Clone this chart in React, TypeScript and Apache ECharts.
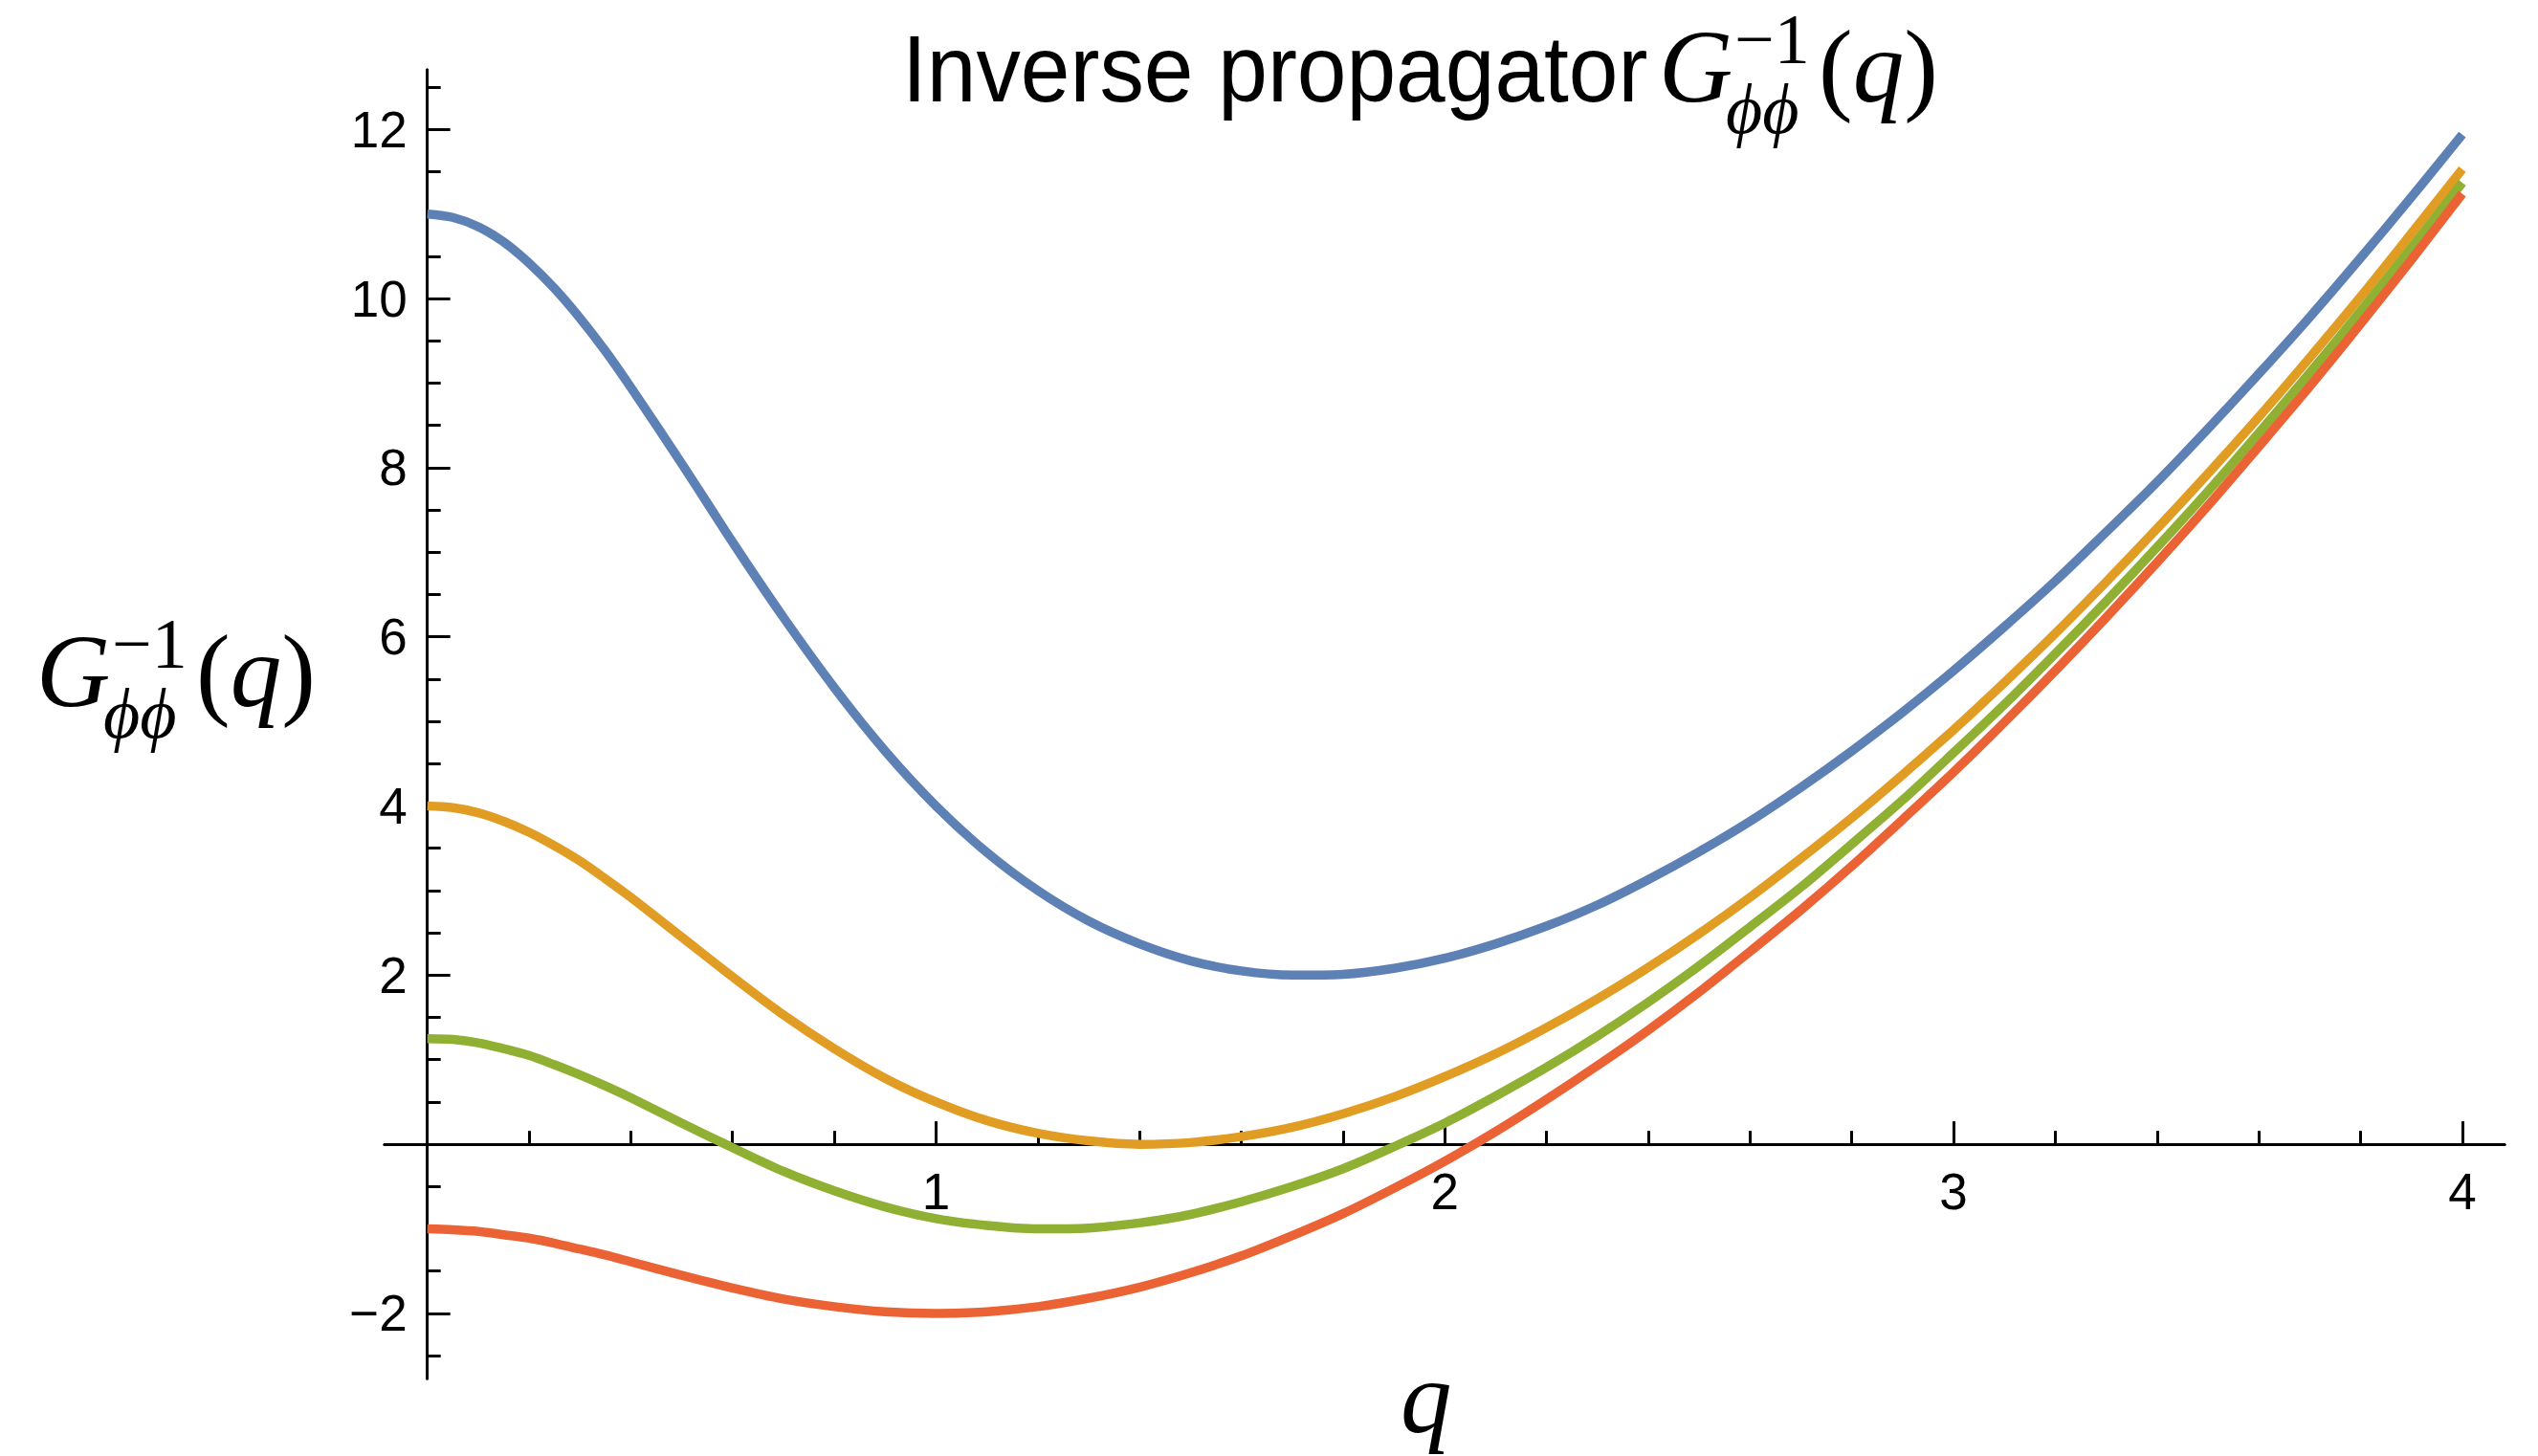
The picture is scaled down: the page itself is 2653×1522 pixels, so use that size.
import React, { useEffect, useRef } from "react";
import * as echarts from "echarts";

// q sample points (finer near q = 0 where the curves bend sharply)
const qValues = [
  0, 0.05, 0.1, 0.15, 0.2, 0.25, 0.3, 0.35, 0.4, 0.5, 0.6, 0.7, 0.8, 0.9, 1, 1.1, 1.2, 1.3, 1.4, 1.5, 1.6, 1.7, 1.8, 1.9, 2,
  2.1, 2.2, 2.3, 2.4, 2.5, 2.6, 2.7, 2.8, 2.9, 3, 3.1, 3.2, 3.3, 3.4, 3.5, 3.6, 3.7, 3.8, 3.9, 4,
];
// curves
const blueValues = [
  11, 10.96, 10.85, 10.67, 10.42, 10.12, 9.77, 9.38, 8.95, 8.05, 7.12, 6.23, 5.4, 4.65, 4.0, 3.45, 3.0, 2.64, 2.37, 2.17, 2.05, 2.0, 2.01, 2.08, 2.2,
  2.37, 2.58, 2.83, 3.13, 3.46, 3.82, 4.22, 4.65, 5.11, 5.6, 6.12, 6.66, 7.24, 7.83, 8.46, 9.11, 9.78, 10.48, 11.2, 11.94,
];
const orangeValues = [
  4, 3.98, 3.92, 3.82, 3.69, 3.53, 3.35, 3.14, 2.92, 2.45, 1.98, 1.53, 1.13, 0.78, 0.5, 0.28, 0.13, 0.04, 0.0, 0.02, 0.09, 0.2, 0.36, 0.56, 0.8,
  1.07, 1.38, 1.72, 2.09, 2.49, 2.92, 3.38, 3.86, 4.37, 4.9, 5.46, 6.04, 6.65, 7.28, 7.93, 8.6, 9.3, 10.02, 10.77, 11.53,
];
const greenValues = [
  1.25, 1.24, 1.2, 1.13, 1.05, 0.94, 0.82, 0.69, 0.55, 0.25, -0.04, -0.32, -0.55, -0.74, -0.88, -0.96, -1.0, -0.99, -0.93, -0.83, -0.68, -0.5, -0.29, -0.03, 0.25,
  0.57, 0.91, 1.28, 1.68, 2.11, 2.57, 3.04, 3.55, 4.07, 4.63, 5.2, 5.8, 6.42, 7.06, 7.72, 8.41, 9.12, 9.85, 10.6, 11.37,
];
const redValues = [
  -1, -1.01, -1.03, -1.07, -1.11, -1.17, -1.24, -1.31, -1.39, -1.55, -1.7, -1.83, -1.92, -1.98, -2.0, -1.98, -1.92, -1.82, -1.69, -1.52, -1.32, -1.08, -0.82, -0.52, -0.2,
  0.15, 0.53, 0.93, 1.35, 1.8, 2.28, 2.77, 3.29, 3.84, 4.4, 4.99, 5.6, 6.23, 6.88, 7.55, 8.25, 8.96, 9.7, 10.46, 11.24,
];

const seriesColors = ["#5E81B5", "#E19C24", "#8FB032", "#EB6235"];

// ticks
const xMajorTicks = [0, 1, 2, 3, 4];
const xTickLabels = [1, 2, 3, 4];
const yMajorTicks = [-2, 0, 2, 4, 6, 8, 10, 12];
const yTickLabels = [-2, 2, 4, 6, 8, 10, 12];
const xMinorTicks = [0.2, 0.4, 0.6, 0.8, 1.2, 1.4, 1.6, 1.8, 2.2, 2.4, 2.6, 2.8, 3.2, 3.4, 3.6, 3.8];
const yMinorTicks = [-2.5, -1.5, -1, -0.5, 0.5, 1, 1.5, 2.5, 3, 3.5, 4.5, 5, 5.5, 6.5, 7, 7.5, 8.5, 9, 9.5, 10.5, 11, 11.5, 12.5];

const X_MIN = -0.084;
const X_MAX = 4.083;
const Y_MIN = -2.77;
const Y_MAX = 12.705;

const W = 2653;
const H = 1522;
const GRID = { left: 402, right: 35, top: 73, bottom: 81 };

const SERIF = "'Liberation Serif', 'Times New Roman', serif";
const SANS = "'Liberation Sans', Arial, Helvetica, sans-serif";

function fmt(v: number) {
  return v < 0 ? "\u2212" + Math.abs(v) : String(v);
}

function txt(id: string, x: number, y: number, text: string, size: number, family: string, italic: boolean, extra: any = {}, lineHeight?: number) {
  const style: any = {
    text,
    fontFamily: family,
    fontStyle: italic ? "italic" : "normal",
    fontSize: size,
    fill: "#000",
    align: "left",
    textAlign: "left",
    verticalAlign: "middle",
    textVerticalAlign: "middle",
  };
  if (lineHeight) style.lineHeight = lineHeight;
  return { type: "text", id, x, y, ...extra, style };
}

function formula(x: number, baseline: number, key: string) {
  // G^{-1}_{phi phi}(q)
  const big = 107;
  const small = 74;
  const midBig = baseline - 0.3375 * big;
  return [
    txt(key + "G", x, midBig, "G", big, SERIF, true),
    txt(key + "sup", x + 79, baseline - 40 - 0.3375 * small, "\u22121", small, SERIF, false, {}, 56),
    txt(key + "sub", x + 70, baseline + 33 - 0.3375 * small, "\u03D5\u03D5", small, SERIF, true),
    {
      type: "text",
      id: key + "arg",
      x: x + 167,
      y: midBig,
      style: {
        text: "{p|(}{i|q}{p|)}",
        fill: "#000",
        align: "left",
        textAlign: "left",
        verticalAlign: "middle",
        textVerticalAlign: "middle",
        rich: {
          p: { fontFamily: SERIF, fontSize: big, fill: "#000" },
          i: { fontFamily: SERIF, fontStyle: "italic", fontSize: big, fill: "#000" },
        },
      },
    },
  ];
}

export default function App() {
  const ref = useRef<HTMLDivElement>(null);

  useEffect(() => {
    document.body.style.margin = "0";
    if (!ref.current) return;
    const chart = echarts.init(ref.current, null, { renderer: "svg" });

    const mk = (vals: number[]) => qValues.map((q, i) => [q, vals[i]]);
    const allSeries = [blueValues, orangeValues, greenValues, redValues];

    const gridW = W - GRID.left - GRID.right;
    const gridH = H - GRID.top - GRID.bottom;
    // place axes through the origin via offsets
    const xAxisOffset = -((0 - Y_MIN) / (Y_MAX - Y_MIN)) * gridH;
    const yAxisOffset = -((0 - X_MIN) / (X_MAX - X_MIN)) * gridW;

    const axisLine = { show: true, onZero: false, lineStyle: { color: "#000", width: 3 } };
    const tickStyle = { color: "#000", width: 3 };

    const option: any = {
      animation: false,
      backgroundColor: "#ffffff",
      grid: { ...GRID, containLabel: false, outerBoundsMode: "none" },
      xAxis: [
        {
          type: "value",
          min: X_MIN,
          max: X_MAX,
          position: "bottom",
          offset: xAxisOffset,
          axisLine: axisLine,
          axisTick: { show: true, inside: true, length: 24, customValues: xMajorTicks, lineStyle: tickStyle },
          axisLabel: {
            show: true,
            customValues: xTickLabels,
            margin: 23,
            fontSize: 53,
            fontFamily: SANS,
            color: "#000",
            formatter: (v: number) => fmt(v),
          },
          splitLine: { show: false },
        },
        {
          type: "value",
          min: X_MIN,
          max: X_MAX,
          position: "bottom",
          offset: xAxisOffset,
          axisLine: axisLine,
          axisTick: { show: true, inside: true, length: 14, customValues: xMinorTicks, lineStyle: tickStyle },
          axisLabel: { show: false },
          splitLine: { show: false },
        },
      ],
      yAxis: [
        {
          type: "value",
          min: Y_MIN,
          max: Y_MAX,
          position: "left",
          offset: yAxisOffset,
          axisLine: axisLine,
          axisTick: { show: true, inside: true, length: 24, customValues: yMajorTicks, lineStyle: tickStyle },
          axisLabel: {
            show: true,
            customValues: yTickLabels,
            margin: 21,
            fontSize: 53,
            fontFamily: SANS,
            color: "#000",
            formatter: (v: number) => fmt(v),
          },
          splitLine: { show: false },
        },
        {
          type: "value",
          min: Y_MIN,
          max: Y_MAX,
          position: "left",
          offset: yAxisOffset,
          axisLine: axisLine,
          axisTick: { show: true, inside: true, length: 14, customValues: yMinorTicks, lineStyle: tickStyle },
          axisLabel: { show: false },
          splitLine: { show: false },
        },
      ],
      series: allSeries.map((vals, i) => ({
        type: "line",
        xAxisIndex: 0,
        yAxisIndex: 0,
        data: mk(vals),
        smooth: 0.3,
        showSymbol: false,
        symbol: "none",
        lineStyle: { color: seriesColors[i], width: 9.5, cap: "butt", join: "round" },
        itemStyle: { color: seriesColors[i] },
        z: 3 + i,
      })),
      graphic: [
        txt("titleText", 943, 106 - 0.3465 * 99, "Inverse propagator", 99, SANS, false, { scaleX: 0.938 }),
        ...formula(1734, 106, "t"),
        ...formula(38, 738, "y"),
        txt("xname", 1464, 1497 - 0.3375 * 107, "q", 107, SERIF, true),
      ],
    };

    chart.setOption(option);
    return () => {
      chart.dispose();
    };
  }, []);

  return <div ref={ref} style={{ width: W + "px", height: H + "px" }} />;
}
